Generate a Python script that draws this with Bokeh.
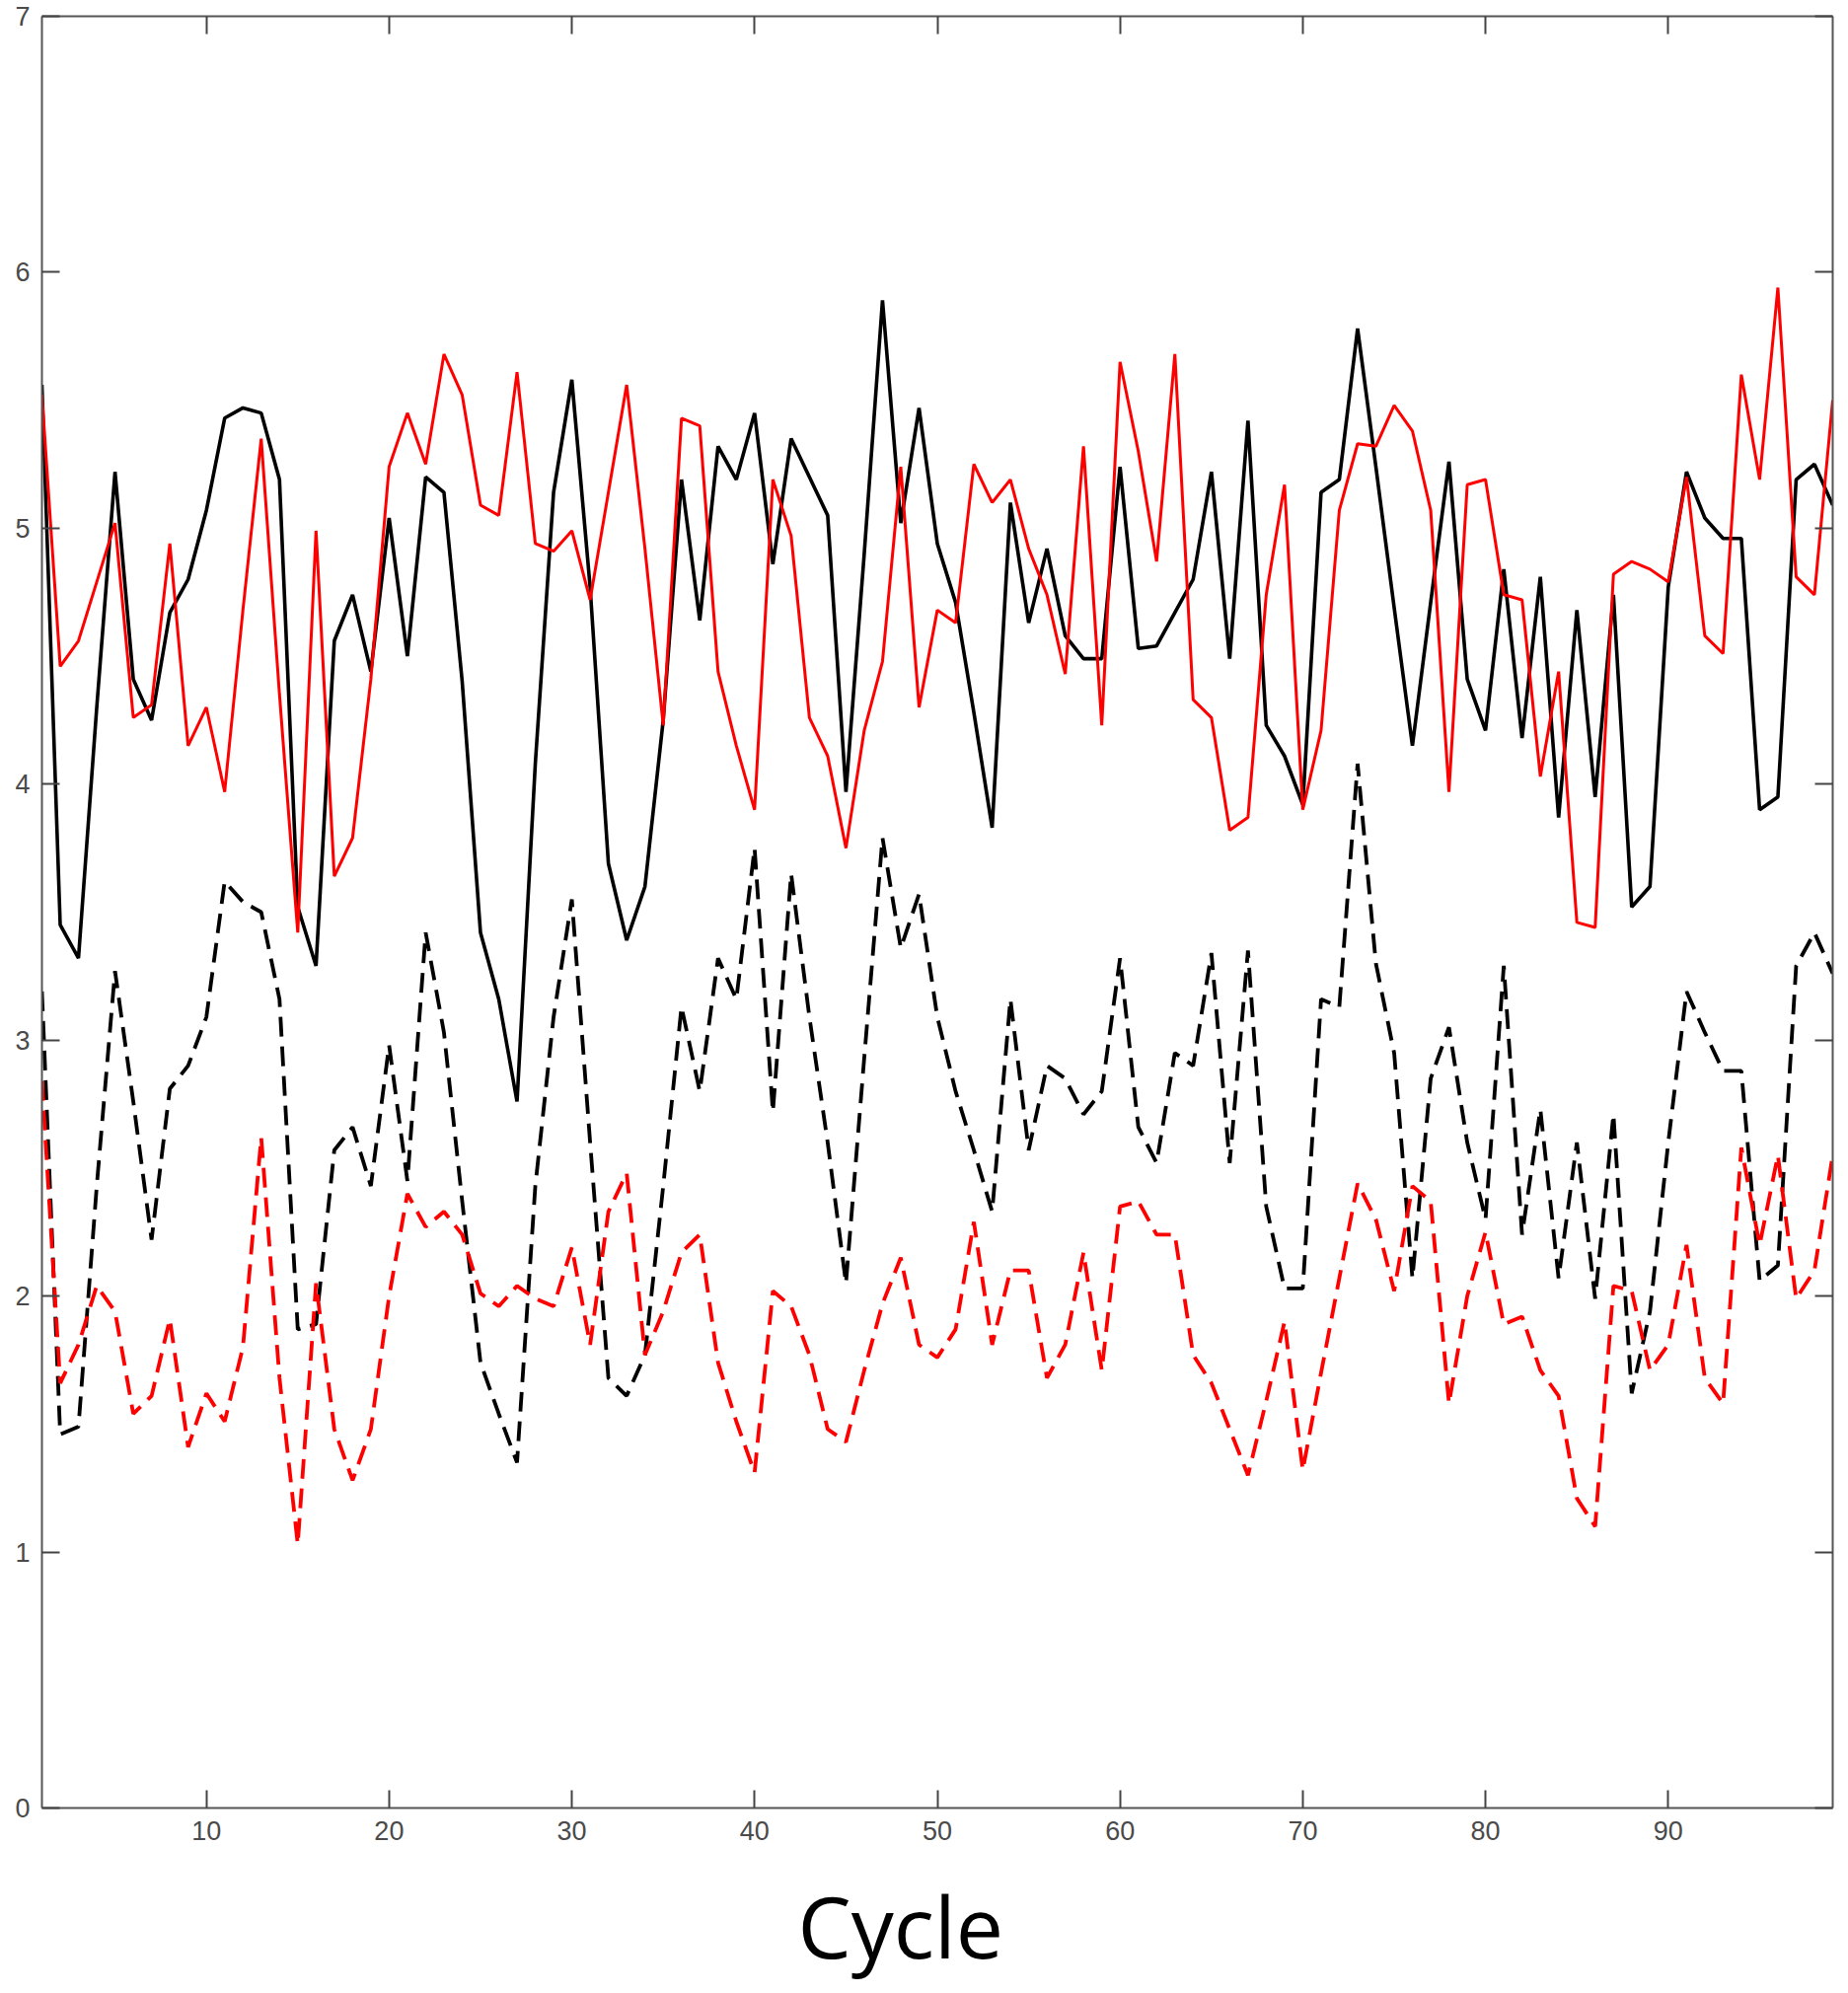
from bokeh.plotting import figure
from bokeh.models import Range1d, LinearAxis, FixedTicker, Title
from bokeh.embed import file_html
from bokeh.resources import INLINE

cycles = list(range(1, 100))

black_solid = [5.56, 3.45, 3.32, 4.30, 5.22, 4.41, 4.25, 4.67, 4.80, 5.07,
               5.43, 5.47, 5.45, 5.19, 3.52, 3.29, 4.56, 4.74, 4.44, 5.04,
               4.50, 5.20, 5.14, 4.40, 3.42, 3.16, 2.76, 4.08, 5.14, 5.58,
               4.77, 3.69, 3.39, 3.60, 4.25, 5.19, 4.64, 5.32, 5.19, 5.45,
               4.86, 5.35, 5.20, 5.05, 3.97, 4.90, 5.89, 5.02, 5.47, 4.94,
               4.71, 4.28, 3.83, 5.10, 4.63, 4.92, 4.58, 4.49, 4.49, 5.24,
               4.53, 4.54, 4.67, 4.80, 5.22, 4.49, 5.42, 4.23, 4.11, 3.92,
               5.14, 5.19, 5.78, 5.24, 4.69, 4.15, 4.71, 5.26, 4.41, 4.21,
               4.84, 4.18, 4.81, 3.87, 4.68, 3.95, 4.74, 3.52, 3.60, 4.77,
               5.22, 5.04, 4.96, 4.96, 3.90, 3.95, 5.19, 5.25, 5.09]

red_solid = [5.52, 4.46, 4.56, 4.79, 5.02, 4.26, 4.31, 4.94, 4.15, 4.30,
             3.97, 4.68, 5.35, 4.35, 3.42, 4.99, 3.64, 3.79, 4.41, 5.24,
             5.45, 5.25, 5.68, 5.52, 5.09, 5.05, 5.61, 4.94, 4.91, 4.99,
             4.72, 5.14, 5.56, 4.92, 4.23, 5.43, 5.40, 4.44, 4.15, 3.90,
             5.19, 4.97, 4.26, 4.11, 3.75, 4.21, 4.48, 5.24, 4.30, 4.68,
             4.63, 5.25, 5.10, 5.19, 4.92, 4.74, 4.43, 5.32, 4.23, 5.65,
             5.30, 4.87, 5.68, 4.33, 4.26, 3.82, 3.87, 4.74, 5.17, 3.90,
             4.21, 5.07, 5.33, 5.32, 5.48, 5.38, 5.07, 3.97, 5.17, 5.19,
             4.74, 4.72, 4.03, 4.44, 3.46, 3.44, 4.82, 4.87, 4.84, 4.79,
             5.20, 4.58, 4.51, 5.60, 5.19, 5.94, 4.81, 4.74, 5.50]

black_dashed = [3.19, 1.46, 1.49, 2.43, 3.27, 2.76, 2.22, 2.81, 2.90, 3.09,
                3.62, 3.54, 3.50, 3.16, 1.87, 1.89, 2.57, 2.66, 2.43, 2.98,
                2.45, 3.42, 3.03, 2.37, 1.74, 1.54, 1.35, 2.43, 3.09, 3.55,
                2.60, 1.68, 1.61, 1.77, 2.43, 3.13, 2.80, 3.32, 3.16, 3.75,
                2.72, 3.65, 3.09, 2.60, 2.05, 2.93, 3.79, 3.36, 3.57, 3.09,
                2.80, 2.57, 2.33, 3.16, 2.57, 2.90, 2.85, 2.71, 2.80, 3.32,
                2.66, 2.52, 2.95, 2.90, 3.34, 2.52, 3.35, 2.35, 2.03, 2.03,
                3.16, 3.13, 4.08, 3.30, 2.95, 2.07, 2.85, 3.05, 2.60, 2.30,
                3.29, 2.24, 2.73, 2.07, 2.60, 1.99, 2.71, 1.62, 1.94, 2.60,
                3.19, 3.03, 2.88, 2.88, 2.06, 2.12, 3.29, 3.42, 3.26]

red_dashed = [2.84, 1.66, 1.81, 2.04, 1.94, 1.54, 1.61, 1.91, 1.41, 1.62,
              1.51, 1.80, 2.62, 1.68, 1.03, 2.05, 1.48, 1.28, 1.48, 2.00,
              2.40, 2.27, 2.33, 2.24, 2.01, 1.96, 2.04, 1.99, 1.96, 2.19,
              1.81, 2.33, 2.48, 1.77, 1.94, 2.17, 2.24, 1.74, 1.51, 1.31,
              2.02, 1.96, 1.77, 1.48, 1.43, 1.71, 1.97, 2.15, 1.81, 1.76,
              1.87, 2.29, 1.81, 2.10, 2.10, 1.68, 1.81, 2.17, 1.71, 2.35,
              2.37, 2.24, 2.24, 1.77, 1.66, 1.48, 1.30, 1.59, 1.90, 1.32,
              1.70, 2.07, 2.44, 2.30, 2.02, 2.43, 2.37, 1.58, 2.00, 2.25,
              1.89, 1.92, 1.71, 1.61, 1.21, 1.10, 2.04, 2.02, 1.71, 1.81,
              2.20, 1.68, 1.58, 2.58, 2.20, 2.55, 1.99, 2.10, 2.55]

x_ticks = [10, 20, 30, 40, 50, 60, 70, 80, 90]
y_ticks = [0, 1, 2, 3, 4, 5, 6, 7]
x_label = "Cycle"

AX = "#555555"
LBL = "#4a4a4a"

p = figure(width=1873, height=2020, output_backend="svg", toolbar_location=None,
           x_range=Range1d(1, 99), y_range=Range1d(0, 7),
           min_border_left=42, min_border_right=16, min_border_top=16,
           min_border_bottom=188, x_axis_type=None, y_axis_type=None)
p.xgrid.visible = False
p.ygrid.visible = False
p.outline_line_color = None
p.background_fill_color = "white"
p.border_fill_color = "white"


def style(ax, ticks, show):
    ax.ticker = FixedTicker(ticks=ticks)
    ax.axis_line_color = AX
    ax.axis_line_width = 2
    ax.major_tick_line_color = "#444444"
    ax.major_tick_line_width = 2
    ax.major_tick_in = 18
    ax.major_tick_out = 0
    ax.minor_tick_line_color = None
    if show:
        ax.major_label_text_font = "Liberation Sans"
        ax.major_label_text_font_size = "27px"
        ax.major_label_text_color = LBL
    else:
        ax.major_label_overrides = {t: "" for t in ticks}
        ax.major_label_text_font_size = "1px"
        ax.major_label_standoff = 0


xb = LinearAxis()
style(xb, x_ticks, True)
xb.major_label_standoff = 13
p.add_layout(xb, "below")

# invisible spacer between the tick labels and the axis title
spacer = LinearAxis()
style(spacer, x_ticks, False)
spacer.axis_line_color = None
spacer.major_tick_line_color = None
spacer.major_tick_in = 0
spacer.major_tick_out = 18
p.add_layout(spacer, "below")

yl = LinearAxis()
style(yl, y_ticks, True)
yl.major_label_standoff = 12
p.add_layout(yl, "left")

xt = LinearAxis()
style(xt, x_ticks, False)
p.add_layout(xt, "above")

yr = LinearAxis()
style(yr, y_ticks, False)
p.add_layout(yr, "right")

p.line(cycles, black_solid, line_color="black", line_width=3.6)
p.line(cycles, red_solid, line_color="#ff0000", line_width=3.0)
p.line(cycles, black_dashed, line_color="black", line_width=3.8, line_dash="20 10")
p.line(cycles, red_dashed, line_color="#ff0000", line_width=3.8, line_dash="20 10")

p.add_layout(Title(text=x_label, align="left", offset=766, vertical_align="top",
                   standoff=15, text_font="Open Sans", text_font_size="86px",
                   text_font_style="normal", text_color="black"), "below")

open("out.html", "w").write(file_html(p, INLINE))
